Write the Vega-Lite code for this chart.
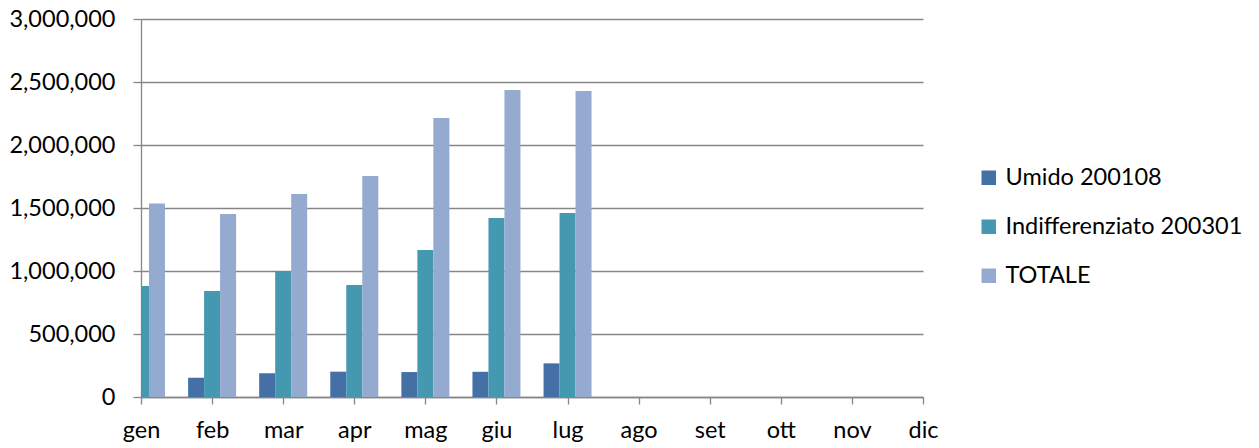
{
  "$schema": "https://vega.github.io/schema/vega-lite/v6.json",
  "width": 782,
  "height": 378,
  "autosize": {"type": "none"},
  "padding": {"left": 141, "top": 19, "right": 336, "bottom": 51},
  "background": "white",
  "config": {"font": "Lato", "view": {"stroke": null}},
  "data": {
    "values": [
      {"mese": "gen", "serie": "Umido 200108", "valore": 150000},
      {"mese": "gen", "serie": "Indifferenziato 200301", "valore": 881000},
      {"mese": "gen", "serie": "TOTALE", "valore": 1536000},
      {"mese": "feb", "serie": "Umido 200108", "valore": 153000},
      {"mese": "feb", "serie": "Indifferenziato 200301", "valore": 841000},
      {"mese": "feb", "serie": "TOTALE", "valore": 1452000},
      {"mese": "mar", "serie": "Umido 200108", "valore": 188000},
      {"mese": "mar", "serie": "Indifferenziato 200301", "valore": 1000000},
      {"mese": "mar", "serie": "TOTALE", "valore": 1611000},
      {"mese": "apr", "serie": "Umido 200108", "valore": 201000},
      {"mese": "apr", "serie": "Indifferenziato 200301", "valore": 889000},
      {"mese": "apr", "serie": "TOTALE", "valore": 1754000},
      {"mese": "mag", "serie": "Umido 200108", "valore": 198000},
      {"mese": "mag", "serie": "Indifferenziato 200301", "valore": 1167000},
      {"mese": "mag", "serie": "TOTALE", "valore": 2214000},
      {"mese": "giu", "serie": "Umido 200108", "valore": 200000},
      {"mese": "giu", "serie": "Indifferenziato 200301", "valore": 1420000},
      {"mese": "giu", "serie": "TOTALE", "valore": 2436000},
      {"mese": "lug", "serie": "Umido 200108", "valore": 267000},
      {"mese": "lug", "serie": "Indifferenziato 200301", "valore": 1460000},
      {"mese": "lug", "serie": "TOTALE", "valore": 2429000}
    ]
  },
  "mark": {"type": "bar", "clip": true},
  "encoding": {
    "x": {
      "field": "mese",
      "type": "nominal",
      "scale": {
        "type": "point",
        "padding": 0,
        "domain": ["gen", "feb", "mar", "apr", "mag", "giu", "lug", "ago", "set", "ott", "nov", "dic"]
      },
      "axis": {
        "title": null,
        "labelAngle": 0,
        "labelFontSize": 23.5,
        "labelColor": "#000000",
        "labelPadding": 14,
        "tickSize": 7,
        "tickColor": "#868686",
        "domainColor": "#868686",
        "tickWidth": 1.3,
        "domainWidth": 1.3,
        "grid": false
      }
    },
    "xOffset": {
      "field": "serie",
      "type": "nominal",
      "sort": ["Umido 200108", "Indifferenziato 200301", "TOTALE"],
      "scale": {"range": [-24, 24], "paddingInner": 0, "paddingOuter": 0}
    },
    "y": {
      "field": "valore",
      "type": "quantitative",
      "scale": {"domain": [0, 3000000], "nice": false},
      "axis": {
        "title": null,
        "values": [0, 500000, 1000000, 1500000, 2000000, 2500000, 3000000],
        "format": ",d",
        "labelFontSize": 23.5,
        "labelColor": "#000000",
        "labelPadding": 18,
        "tickSize": 8,
        "tickColor": "#868686",
        "domainColor": "#868686",
        "gridColor": "#868686",
        "tickWidth": 1.3,
        "domainWidth": 1.3,
        "gridWidth": 1.3,
        "grid": true
      }
    },
    "color": {
      "field": "serie",
      "type": "nominal",
      "sort": ["Umido 200108", "Indifferenziato 200301", "TOTALE"],
      "scale": {
        "domain": ["Umido 200108", "Indifferenziato 200301", "TOTALE"],
        "range": ["#4470A5", "#4499B0", "#94AACF"]
      },
      "legend": {
        "title": null,
        "orient": "none",
        "legendX": 836,
        "legendY": 147,
        "symbolType": "square",
        "symbolSize": 210,
        "symbolStrokeWidth": 0,
        "labelFontSize": 23.5,
        "labelColor": "#000000",
        "labelOffset": 5,
        "labelLimit": 400,
        "rowPadding": 24
      }
    }
  }
}
